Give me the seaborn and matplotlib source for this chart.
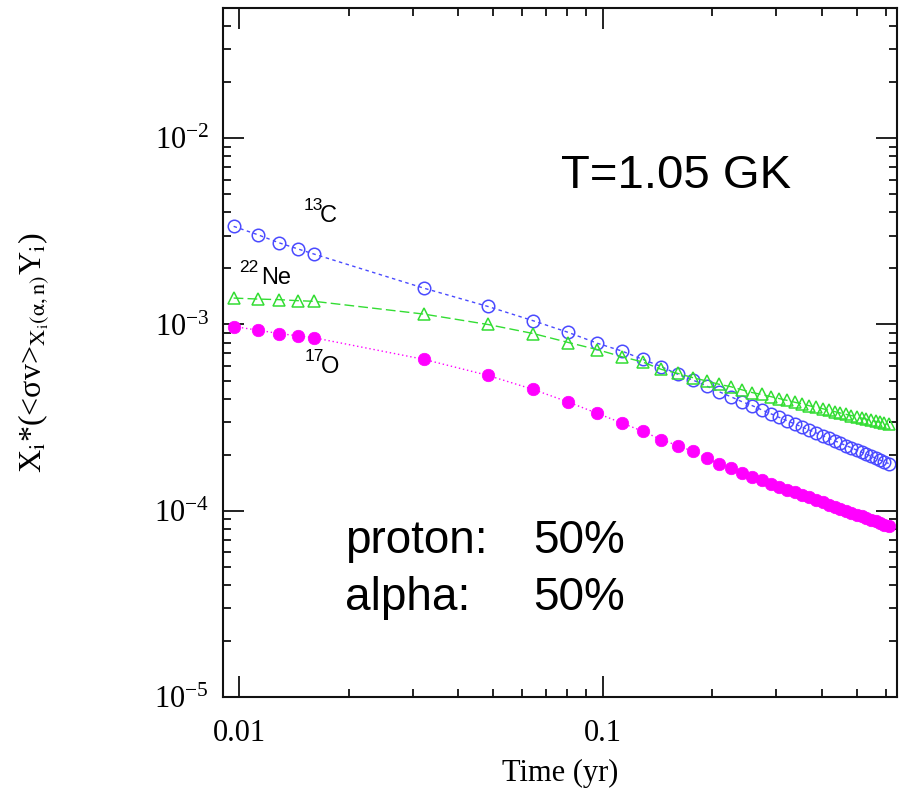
import numpy as np
import pandas as pd
import matplotlib
matplotlib.use("Agg")
import matplotlib.pyplot as plt
import matplotlib.ticker as mticker
import seaborn as sns

# ---- data (values in units of 1e-3) ----
time_yr = [0.00966, 0.01127, 0.01288, 0.01449, 0.0161,
           0.0322, 0.0483, 0.0644, 0.0805, 0.0966, 0.1127, 0.1288, 0.1449, 0.1610,
           0.1771, 0.1932, 0.2093, 0.2254, 0.2415, 0.2576, 0.2737, 0.2898, 0.3059,
           0.3220, 0.3381, 0.3542, 0.3703, 0.3864, 0.4025, 0.4186, 0.4347, 0.4508,
           0.4669, 0.4830, 0.4991, 0.5152, 0.5313, 0.5474, 0.5635, 0.5796, 0.5957, 0.6118]

c13 = [3.363, 3.030, 2.744, 2.546, 2.385,
       1.567, 1.250, 1.047, 0.906, 0.793, 0.721, 0.650, 0.594, 0.540,
       0.503, 0.467, 0.435, 0.409, 0.385, 0.367, 0.348, 0.332, 0.317,
       0.304, 0.292, 0.281, 0.271, 0.262, 0.253, 0.245, 0.2375, 0.2303,
       0.2239, 0.2178, 0.2119, 0.2064, 0.2011, 0.1965, 0.1916, 0.1872, 0.1830, 0.1792]

ne22 = [1.386, 1.369, 1.359, 1.342, 1.331,
        1.137, 1.000, 0.894, 0.800, 0.733, 0.672, 0.629, 0.574, 0.546,
        0.518, 0.497, 0.477, 0.463, 0.446, 0.431, 0.421, 0.410, 0.400,
        0.391, 0.382, 0.374, 0.366, 0.359, 0.353, 0.3465, 0.3405, 0.3346,
        0.3293, 0.3244, 0.3192, 0.3145, 0.3102, 0.3060, 0.3019, 0.2981, 0.2944, 0.2908]

o17 = [0.975, 0.932, 0.894, 0.869, 0.848,
       0.650, 0.533, 0.448, 0.383, 0.3334, 0.2963, 0.2673, 0.2408, 0.2236,
       0.2085, 0.1919, 0.1780, 0.1694, 0.1593, 0.1521, 0.1458, 0.1400, 0.1347,
       0.1299, 0.1257, 0.1215, 0.1178, 0.1143, 0.1111, 0.1080, 0.1052, 0.1025,
       0.1000, 0.0977, 0.0954, 0.0933, 0.0913, 0.0894, 0.0876, 0.0859, 0.0843, 0.0827]

unit = 1e-3
df = pd.DataFrame({"t": time_yr,
                   "c13": np.array(c13) * unit,
                   "ne22": np.array(ne22) * unit,
                   "o17": np.array(o17) * unit})

sns.set_style("ticks")
plt.rcParams["mathtext.fontset"] = "stix"
plt.rcParams["font.family"] = ["Liberation Serif", "DejaVu Serif"]
for k in ["text.color", "axes.labelcolor", "xtick.color", "ytick.color", "axes.edgecolor"]:
    plt.rcParams[k] = "black"

W, H = 899, 796
fig = plt.figure(figsize=(W / 100, H / 100), dpi=100)
L, R, T, B = 223, 897, 8, 697
ax = fig.add_axes([L / W, 1 - B / H, (R - L) / W, (B - T) / H])

blue = "#4a4aff"
green = "#33dd33"
mag = "#ff00ff"

sns.lineplot(data=df, x="t", y="c13", ax=ax, color=blue, marker="o", markersize=9,
             markerfacecolor="none", markeredgecolor=blue, markeredgewidth=1.1,
             linestyle=(0, (2.5, 2.5)), linewidth=1.0)
sns.lineplot(data=df, x="t", y="ne22", ax=ax, color=green, marker="^", markersize=9,
             markerfacecolor="none", markeredgecolor=green, markeredgewidth=1.1,
             linestyle=(0, (7, 3)), linewidth=1.0)
sns.lineplot(data=df, x="t", y="o17", ax=ax, color=mag, marker="o", markersize=9,
             markerfacecolor=mag, markeredgecolor=mag, markeredgewidth=0.5,
             linestyle=(0, (1, 2)), linewidth=1.0)

ax.set_xscale("log")
ax.set_yscale("log")
ax.set_xlim(0.00903, 0.645)
ax.set_ylim(1e-5, 5e-2)

ax.xaxis.set_major_locator(mticker.FixedLocator([0.01, 0.1]))
ax.xaxis.set_major_formatter(mticker.FixedFormatter(["0.01", "0.1"]))
ax.xaxis.set_minor_locator(mticker.LogLocator(base=10, subs=np.arange(2, 10)))
ax.xaxis.set_minor_formatter(mticker.NullFormatter())
ax.yaxis.set_major_locator(mticker.LogLocator(base=10, numticks=10))
ax.yaxis.set_major_formatter(mticker.LogFormatterMathtext())
ax.yaxis.set_minor_locator(mticker.LogLocator(base=10, subs=np.arange(2, 10), numticks=10))
ax.yaxis.set_minor_formatter(mticker.NullFormatter())

for s in ax.spines.values():
    s.set_linewidth(1.5)
    s.set_color("#111111")
ax.tick_params(which="both", direction="in", top=True, right=True, width=1.3,
               color="#111111", labelcolor="black")
ax.tick_params(which="major", length=15)
ax.tick_params(which="minor", length=6)
ax.tick_params(axis="x", which="major", labelsize=22, pad=16)
ax.tick_params(axis="y", which="major", labelsize=22, pad=10)

ax.set_xlabel("Time (yr)", fontsize=22, color="black")
ax.xaxis.set_label_coords(0.5, -0.09)
ax.set_ylabel(r"X$_\mathrm{i}$*(<σv>$_{\mathrm{X_i(\alpha,n)}}$Y$_\mathrm{i}$)", fontsize=23,
              color="black")
ax.yaxis.set_label_coords(-0.255, 0.5)

sans = ["Liberation Sans", "DejaVu Sans"]

def ftext(x, y, s, size, **kw):
    fig.text(x / W, 1 - y / H, s, fontsize=size, family=sans, va="baseline", ha="left",
             color="black", **kw)

ftext(561, 188, "T=1.05 GK", 34)
ftext(345, 553, "proton:", 33)
ftext(533, 553, "50%", 33)
ftext(345, 610, "alpha:", 33)
ftext(533, 610, "50%", 33)

ftext(304, 210, "13", 12.5)
ftext(320, 222, "C", 17)
ftext(239, 272, "22", 12.5)
ftext(261, 284, "Ne", 17)
ftext(305, 361, "17", 12.5)
ftext(321, 373, "O", 17)

fig.savefig("out.png", dpi=100)
